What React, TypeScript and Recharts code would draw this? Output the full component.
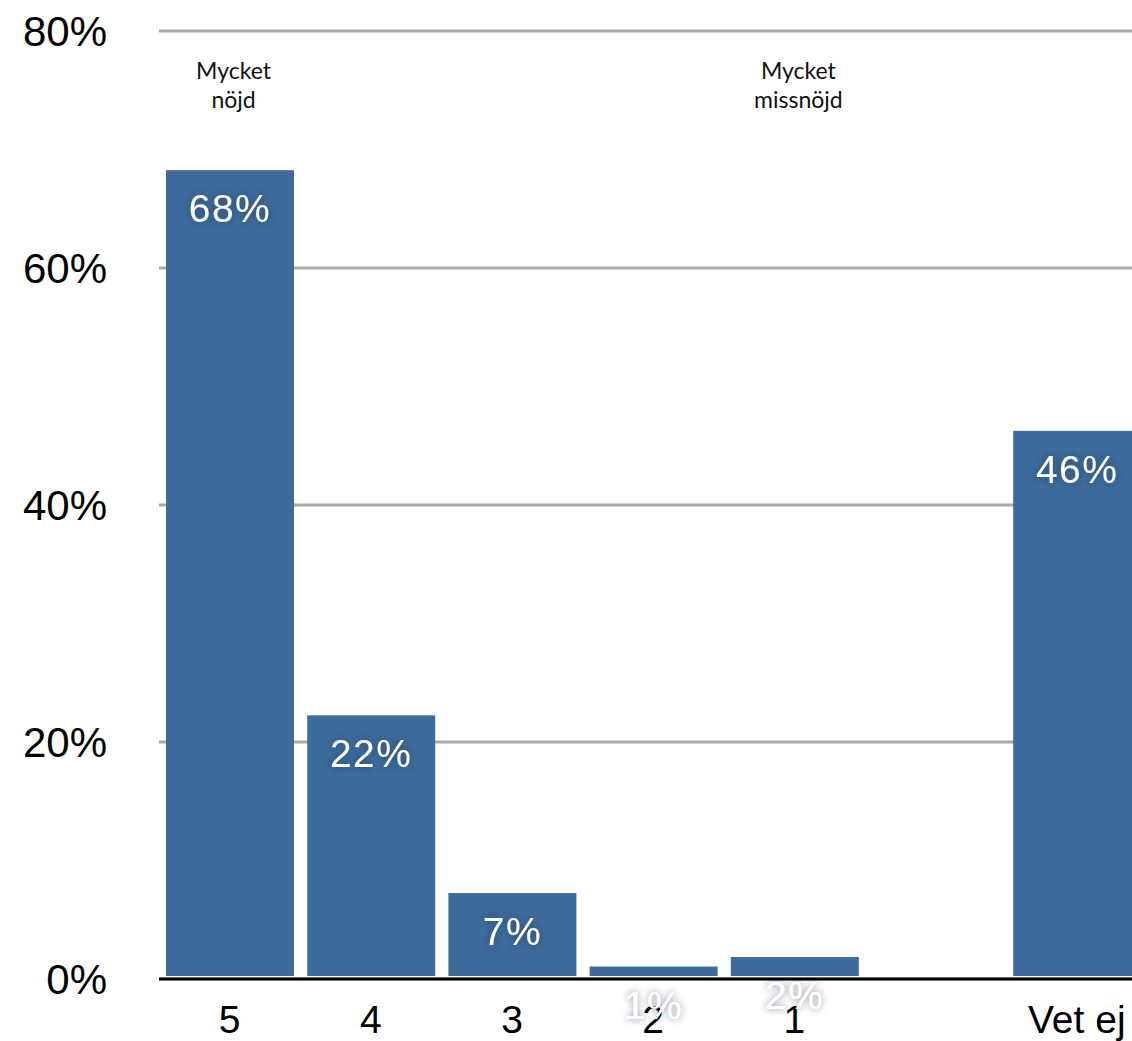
import React from 'react';
import { BarChart, Bar, XAxis, YAxis, CartesianGrid, LabelList, ReferenceDot } from 'recharts';

const categories = ['5', '4', '3', '2', '1', ' ', 'Vet ej'];
const shares: (number | null)[] = [68, 22, 7, 0.8, 1.6, null, 46];
const yTicks = [0, 20, 40, 60, 80];
const annotationCategories = ['5', '1'];
const annotationLines = [
  ['Mycket', 'nöjd'],
  ['Mycket', 'missnöjd'],
];

const data = categories.map((category, i) => ({ category, share: shares[i] }));

const BAR_COLOR = '#3d6b9b';
const FONT = '"Liberation Sans", Arial, Helvetica, sans-serif';

const BarShape = (p: any) => {
  if (!p.height || p.height <= 0) return null;
  return <rect x={p.x} y={p.y - 3} width={p.width} height={p.height} fill={BAR_COLOR} />;
};

const ValueLabel = (p: any) => {
  if (p.value == null) return null;
  const cx = p.x + p.width / 2;
  return (
    <text
      x={cx}
      y={p.y + 49}
      textAnchor="middle"
      fill="#ffffff"
      fontSize={39}
      fontFamily={FONT}
      letterSpacing={1.5}
      filter="url(#labelGlow)"
    >
      {Math.round(p.value)}%
    </text>
  );
};

const makeAnnotation = (lines: string[]) => (p: any) => (
  <text
    x={p.cx + 4}
    y={p.cy + 48}
    textAnchor="middle"
    fill="#111"
    fontSize={23}
    fontFamily='Lato, "Open Sans", sans-serif'
  >
    {lines.map((l, i) => (
      <tspan key={i} x={p.cx + 4} dy={i === 0 ? 0 : 29}>
        {l}
      </tspan>
    ))}
  </text>
);

export default function App() {
  return (
    <div
      style={{
        position: 'absolute',
        left: 0,
        top: 0,
        width: 1132,
        height: 1041,
        overflow: 'hidden',
        background: '#fff',
      }}
    >
      <svg width={0} height={0} style={{ position: 'absolute' }}>
        <defs>
          <filter id="labelGlow" x="-30%" y="-40%" width="160%" height="180%">
            <feGaussianBlur in="SourceAlpha" stdDeviation="3.5" result="blur" />
            <feFlood floodColor="#1b2c44" floodOpacity="0.55" />
            <feComposite in2="blur" operator="in" result="shadow" />
            <feMerge>
              <feMergeNode in="shadow" />
              <feMergeNode in="SourceGraphic" />
            </feMerge>
          </filter>
        </defs>
      </svg>
      <BarChart
        width={1160}
        height={1041}
        data={data}
        margin={{ top: 31, right: 12.6, bottom: 0, left: 0 }}
        barSize={128}
      >
        <CartesianGrid horizontal vertical={false} stroke="#aaaaaa" strokeWidth={3} />
        <XAxis
          dataKey="category"
          height={62}
          tickLine={false}
          tickSize={0}
          tickMargin={26}
          axisLine={{ stroke: '#000', strokeWidth: 3 }}
          tick={{ fill: '#000', fontSize: 39, fontFamily: FONT }}
          interval={0}
        />
        <YAxis
          width={159}
          domain={[0, 80]}
          ticks={yTicks}
          tickFormatter={(v: number) => `${v}%`}
          axisLine={false}
          tickLine={false}
          tickSize={0}
          tickMargin={52}
          tick={{ fill: '#000', fontSize: 42, fontFamily: FONT }}
          interval={0}
        />
        <Bar dataKey="share" fill={BAR_COLOR} isAnimationActive={false} shape={BarShape}>
          <LabelList dataKey="share" content={ValueLabel} />
        </Bar>
        {annotationCategories.map((c, i) => (
          <ReferenceDot
            key={c}
            x={c}
            y={80}
            r={0}
            ifOverflow="visible"
            shape={makeAnnotation(annotationLines[i])}
          />
        ))}
      </BarChart>
    </div>
  );
}
